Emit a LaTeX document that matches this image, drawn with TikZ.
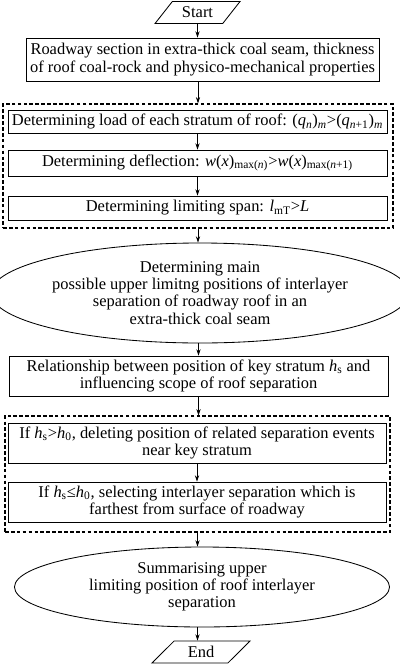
\documentclass[tikz,border=0pt]{standalone}
\usepackage{fontspec}
\setmainfont{Liberation Serif}
\usetikzlibrary{shapes.geometric,arrows.meta}

\newcommand{\hsub}{\textit{h}\textsubscript{s}}
\newcommand{\hzero}{\textit{h}\textsubscript{0}}

\begin{document}
\begin{tikzpicture}[
  font=\fontsize{11.7}{12.2}\selectfont,
  filo/.style={draw=black, line width=0.5pt},
  freccia/.style={draw=black, line width=0.5pt, -{Stealth[length=4.5pt, width=3pt]}},
  blocco/.style={draw=black, line width=0.6pt, rectangle, align=center, inner sep=1pt},
  ellisse/.style={draw=black, line width=0.6pt, ellipse, align=center, inner sep=0pt},
  terminale/.style={draw=black, line width=0.6pt, trapezium, trapezium left angle=50,
    trapezium right angle=130, trapezium stretches=true, inner sep=1pt},
  gruppo/.style={draw=black, line width=0.8pt, dash pattern=on 2.6pt off 1.6pt,
    rectangle, inner sep=0pt}
]

\useasboundingbox (0.000,0.000) rectangle (10.000,-16.650);

%--------------------------------------------------------------
% Inizio e dati di partenza
%--------------------------------------------------------------
\node[terminale, minimum width=2.125cm, minimum height=0.550cm] (inizio) at (4.938,-0.313) {Start};
\node[blocco, minimum width=8.825cm, minimum height=1.075cm] (sezione) at (5.063,-1.488)
  {Roadway section in extra-thick coal seam, thickness\\of roof coal-rock and physico-mechanical properties};

%--------------------------------------------------------------
% Gruppo: carico, inflessione e luce limite degli strati
%--------------------------------------------------------------
\node[gruppo, minimum width=9.750cm, minimum height=3.100cm] (gruppostrati) at (4.950,-4.150) {};
\node[blocco, minimum width=9.475cm, minimum height=0.575cm] (carico) at (4.938,-3.038)
  {Determining load of each stratum of roof: (\textit{q}\textsubscript{\textit{n}})\textsubscript{\textit{m}}>(\textit{q}\textsubscript{\textit{n}+1})\textsubscript{\textit{m}}};
\node[blocco, minimum width=9.475cm, minimum height=0.650cm] (inflessione) at (4.938,-4.075)
  {Determining deflection: \textit{w}(\textit{x})\textsubscript{max(\textit{n})}>\textit{w}(\textit{x})\textsubscript{max(\textit{n}+1)}};
\node[blocco, minimum width=9.475cm, minimum height=0.600cm] (luce) at (4.938,-5.200)
  {Determining limiting span: \textit{l}\textsubscript{mT}>\textit{L}};

%--------------------------------------------------------------
% Posizioni limite possibili e strato chiave
%--------------------------------------------------------------
\node[ellisse, minimum width=9.800cm, minimum height=2.500cm] (posizioni) at (5.000,-7.325)
  {Determining main\\possible upper limitng positions of interlayer\\separation of roadway roof in an\\extra-thick coal seam};
\node[blocco, minimum width=9.475cm, minimum height=1.000cm] (chiave) at (4.963,-9.400)
  {Relationship between position of key stratum \hsub{} and\\influencing scope of roof separation};

%--------------------------------------------------------------
% Gruppo: condizioni su h_s e h_0
%--------------------------------------------------------------
\node[gruppo, minimum width=9.625cm, minimum height=2.900cm] (gruppocondizioni) at (4.938,-11.850) {};
\node[blocco, minimum width=9.450cm, minimum height=1.000cm] (eliminazione) at (4.925,-11.075)
  {If \hsub>\hzero, deleting position of related separation events\\near key stratum};
\node[blocco, minimum width=9.450cm, minimum height=1.000cm] (selezione) at (4.925,-12.550)
  {If \hsub≤\hzero, selecting interlayer separation which is\\farthest from surface of roadway};

%--------------------------------------------------------------
% Sintesi e fine
%--------------------------------------------------------------
\node[ellisse, minimum width=9.375cm, minimum height=2.000cm] (sintesi) at (5.050,-14.675)
  {Summarising upper\\limiting position of roof interlayer\\separation};
\node[terminale, minimum width=2.450cm, minimum height=0.550cm] (fine) at (5.025,-16.300) {End};

%--------------------------------------------------------------
% Frecce
%--------------------------------------------------------------
\draw[freccia] (inizio.south) -- (inizio.south |- sezione.north);
\draw[freccia] (gruppostrati.north |- sezione.south) -- (gruppostrati.north);
\draw[freccia] (carico.south) -- (inflessione.north);
\draw[freccia] (inflessione.south) -- (luce.north);
\draw[freccia] (gruppostrati.south) -- (gruppostrati.south |- posizioni.north);
\draw[freccia] (chiave.north |- posizioni.south) -- (chiave.north);
\draw[freccia] (chiave.south) -- (chiave.south |- gruppocondizioni.north);
\draw[freccia] (eliminazione.south) -- (selezione.north);
\draw[freccia] (gruppocondizioni.south) -- (gruppocondizioni.south |- sintesi.north);
\draw[freccia] (gruppocondizioni.south |- sintesi.south) -- (gruppocondizioni.south |- fine.north);

\end{tikzpicture}
\end{document}
